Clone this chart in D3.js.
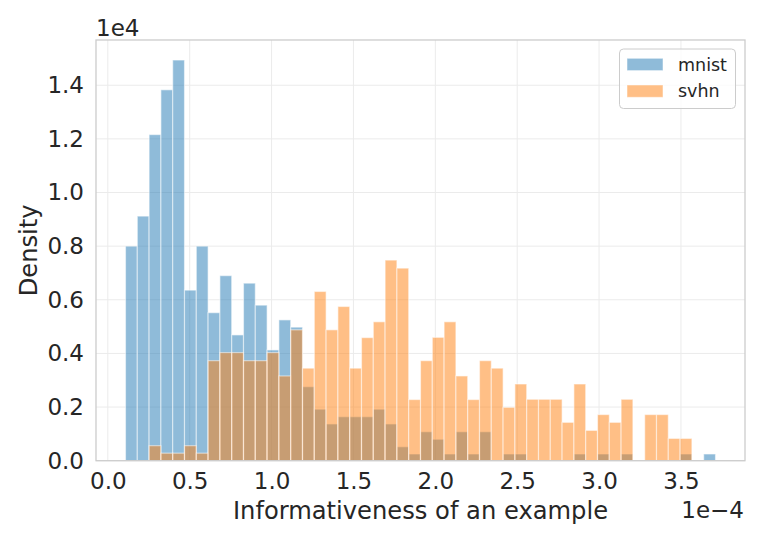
<!DOCTYPE html>
<html>
<head>
<meta charset="utf-8">
<script src="https://cdn.jsdelivr.net/npm/d3@7"></script>
<style>
  body { margin: 0; background: #fff; }
  text { font-family: "DejaVu Sans", sans-serif; fill: #262626; }
</style>
</head>
<body>
<svg id="chart" width="761" height="544"></svg>
<script>
// Histogram bin range (units of 1e-4) and number of bins
const binStart = 0.108;
const binEnd = 3.711;
const binCount = 50;

// Density values per bin (units of 1e4)
const mnist = [0.80, 0.912, 1.216, 1.383, 1.494, 0.636, 0.80, 0.552, 0.690, 0.469,
  0.662, 0.580, 0.413, 0.525, 0.498, 0.276, 0.192, 0.137, 0.164, 0.164,
  0.164, 0.192, 0.137, 0.052, 0.025, 0.108, 0.080, 0.025, 0.108, 0.025,
  0.108, 0, 0.025, 0.025, 0, 0, 0, 0, 0.025, 0,
  0.025, 0, 0.025, 0, 0, 0, 0, 0.025, 0, 0.025];
const svhn = [0, 0, 0.056, 0.028, 0.028, 0.056, 0.028, 0.373, 0.403, 0.403,
  0.373, 0.373, 0.403, 0.316, 0.488, 0.345, 0.631, 0.488, 0.575, 0.345,
  0.459, 0.518, 0.748, 0.718, 0.228, 0.373, 0.460, 0.518, 0.316, 0.228,
  0.373, 0.345, 0.199, 0.286, 0.229, 0.229, 0.229, 0.143, 0.286, 0.113,
  0.172, 0.143, 0.229, 0, 0.172, 0.172, 0.083, 0.083, 0, 0];

const xTicks = [0.0, 0.5, 1.0, 1.5, 2.0, 2.5, 3.0, 3.5];
const yTicks = [0.0, 0.2, 0.4, 0.6, 0.8, 1.0, 1.2, 1.4];
const seriesNames = ["mnist", "svhn"];
const seriesColors = ["#1f77b4", "#ff7f0e"];

(function () {
const svg = d3.select("#chart");
const pL = 96, pR = 745, pT = 40, pB = 460.7;
const tickFont = 23, labelFont = 24.2;

const binW = (binEnd - binStart) / binCount;
const span = binEnd - binStart;
const x = d3.scaleLinear().domain([binStart - 0.05 * span, binEnd + 0.05 * span]).range([pL, pR]);
const yMax = d3.max([...mnist, ...svhn]) * 1.05;
const y = d3.scaleLinear().domain([0, yMax]).range([pB, pT]);

// grid
const grid = svg.append("g");
grid.selectAll("line.gx").data(xTicks).join("line").attr("class", "gx")
  .attr("x1", d => x(d)).attr("x2", d => x(d)).attr("y1", pT).attr("y2", pB)
  .attr("stroke", "#ebebeb").attr("stroke-width", 1);
grid.selectAll("line.gy").data(yTicks).join("line").attr("class", "gy")
  .attr("x1", pL).attr("x2", pR).attr("y1", d => y(d)).attr("y2", d => y(d))
  .attr("stroke", "#ebebeb").attr("stroke-width", 1);

// bars
[mnist, svhn].forEach((vals, si) => {
  const data = vals.map((v, i) => ({v, i})).filter(d => d.v > 0);
  svg.append("g").selectAll("rect").data(data).join("rect")
    .attr("x", d => x(binStart + d.i * binW))
    .attr("width", d => x(binStart + (d.i + 1) * binW) - x(binStart + d.i * binW))
    .attr("y", d => y(d.v))
    .attr("height", d => y(0) - y(d.v))
    .attr("fill", seriesColors[si]).attr("fill-opacity", 0.5)
    .attr("stroke", "#ffffff").attr("stroke-opacity", 0.5).attr("stroke-width", 1.2);
});

// frame
svg.append("rect").attr("x", pL).attr("y", pT).attr("width", pR - pL).attr("height", pB - pT)
  .attr("fill", "none").attr("stroke", "#cccccc").attr("stroke-width", 1.3);

// axes (no tick marks)
const xAxis = svg.append("g").attr("transform", `translate(0,${pB})`)
  .call(d3.axisBottom(x).tickValues(xTicks).tickFormat(d3.format(".1f")).tickSize(0).tickPadding(12));
xAxis.select(".domain").remove();
xAxis.selectAll("text").attr("font-size", tickFont).attr("fill", "#262626").style("font-family", "DejaVu Sans");

const yAxis = svg.append("g").attr("transform", `translate(${pL},0)`)
  .call(d3.axisLeft(y).tickValues(yTicks).tickFormat(d3.format(".1f")).tickSize(0).tickPadding(12));
yAxis.select(".domain").remove();
yAxis.selectAll("text").attr("font-size", tickFont).attr("fill", "#262626").style("font-family", "DejaVu Sans");

// labels
svg.append("text").attr("x", (pL + pR) / 2).attr("y", 519).attr("text-anchor", "middle")
  .attr("font-size", labelFont).text("Informativeness of an example");
svg.append("text").attr("transform", `translate(37,${(pT + pB) / 2}) rotate(-90)`)
  .attr("text-anchor", "middle").attr("font-size", labelFont).text("Density");
svg.append("text").attr("x", 96).attr("y", 36).attr("font-size", tickFont).text("1e4");
svg.append("text").attr("x", 744).attr("y", 518).attr("text-anchor", "end").attr("font-size", tickFont).text("1e\u22124");

// legend
const lg = svg.append("g");
lg.append("rect").attr("x", 619.5).attr("y", 49).attr("width", 116).attr("height", 59.5)
  .attr("rx", 4).attr("fill", "#ffffff").attr("fill-opacity", 0.8).attr("stroke", "#cccccc").attr("stroke-width", 1);
seriesNames.forEach((name, i) => {
  lg.append("rect").attr("x", 627).attr("y", 58.3 + i * 26.7).attr("width", 36).attr("height", 12.3)
    .attr("fill", seriesColors[i]).attr("fill-opacity", 0.5)
    .attr("stroke", "#ffffff").attr("stroke-opacity", 0.5);
  lg.append("text").attr("x", 678).attr("y", 70.5 + i * 26.7).attr("font-size", 17.5).text(name);
});
})();
</script>
</body>
</html>
